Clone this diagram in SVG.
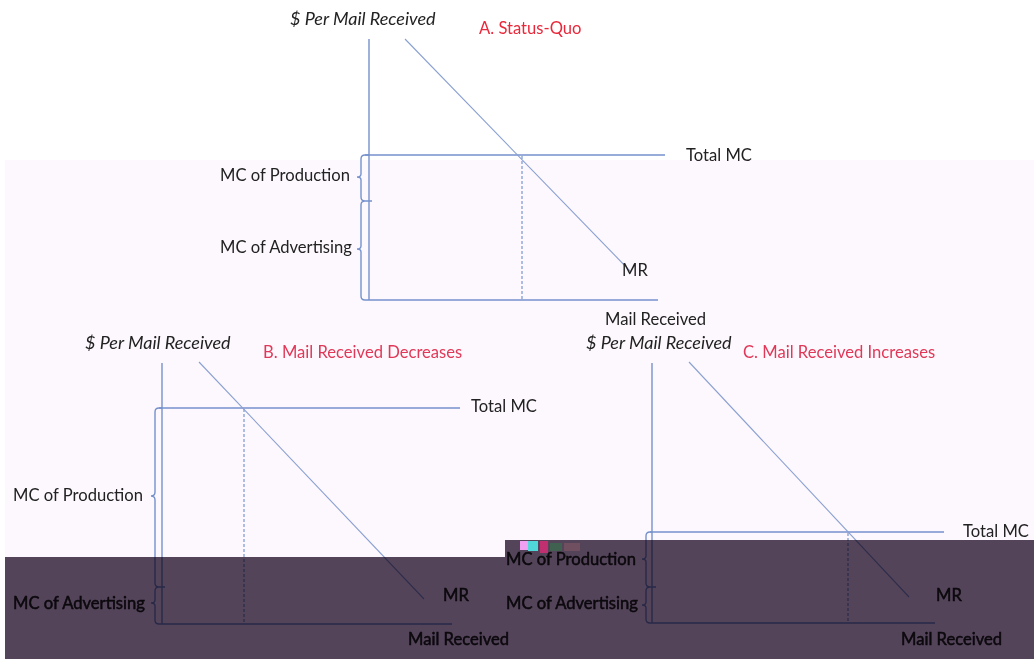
<svg xmlns="http://www.w3.org/2000/svg" width="1034" height="659" viewBox="0 0 1034 659">
<style>
.t{font-family:Lato,"Open Sans","Liberation Sans",sans-serif;font-size:16.6px;fill:#222}
.i{font-style:italic;font-size:18px}
.ra{fill:#e8283a}
.rb{fill:#e03858}
.bd{stroke:#1a1020;stroke-width:0.5}
.ax{fill:none;stroke:#7591cc;stroke-width:1.4}
.mr{fill:none;stroke:#8aa0d2;stroke-width:1.1}
.dt{fill:none;stroke:#5f80c8;stroke-width:1;stroke-dasharray:3 2}
.band{fill:#54465a;mix-blend-mode:multiply}
</style>
<rect width="1034" height="659" fill="#ffffff"/>
<rect x="5" y="160" width="1029" height="499" fill="#fdf8fd"/>

<g id="panel-a">
<g id="a-lines">
<line class="ax" x1="369" y1="39" x2="369" y2="300"/>
<line class="ax" x1="365" y1="155" x2="665" y2="155"/>
<line class="ax" x1="365" y1="300" x2="658" y2="300"/>
<line class="dt" x1="522" y1="156" x2="522" y2="299"/>
<line class="mr" x1="405" y1="39" x2="631" y2="272"/>
<path class="ax" d="M369,155 H365 Q361,155 361,159 V174 Q361,177 357,177 Q361,177 361,180 V197 Q361,201 365,201 H372 M365,201 Q361,201 361,205 V246 Q361,249 357,249 Q361,249 361,252 V296 Q361,300 365,300"/>
</g>
<text class="t i" x="290" y="25">$ Per Mail Received</text>
<text class="t ra" x="479" y="34">A. Status-Quo</text>
<text class="t" x="686" y="161">Total MC</text>
<text class="t" x="220" y="181">MC of Production</text>
<text class="t" x="220" y="253">MC of Advertising</text>
<text class="t" x="622" y="276">MR</text>
<text class="t" x="605" y="325">Mail Received</text>
</g>

<g id="panel-b">
<g id="b-lines">
<line class="ax" x1="162" y1="363" x2="162" y2="624"/>
<line class="ax" x1="159" y1="408" x2="460" y2="408"/>
<line class="ax" x1="159" y1="624" x2="452" y2="624"/>
<line class="dt" x1="244" y1="409" x2="244" y2="623"/>
<line class="mr" x1="199" y1="362" x2="424" y2="599"/>
<path class="ax" d="M162,408 H159 Q155,408 155,412 V492 Q155,496 151,496 Q155,496 155,500 V583 Q155,587 159,587 H165 M159,587 Q155,587 155,591 V600 Q155,603 151,603 Q155,603 155,606 V620 Q155,624 159,624"/>
</g>
<text class="t i" x="85" y="349">$ Per Mail Received</text>
<text class="t rb" x="263" y="358">B. Mail Received Decreases</text>
<text class="t" x="471" y="412">Total MC</text>
<text class="t" x="13" y="501">MC of Production</text>
<text class="t bd" x="13" y="609">MC of Advertising</text>
<text class="t bd" x="443" y="601">MR</text>
<text class="t bd" x="408" y="645">Mail Received</text>
</g>

<g id="panel-c">
<g id="c-lines">
<line class="ax" x1="652" y1="363" x2="652" y2="623"/>
<line class="ax" x1="650" y1="532" x2="944" y2="532"/>
<line class="ax" x1="650" y1="623" x2="935" y2="623"/>
<line class="dt" x1="848" y1="533" x2="848" y2="622"/>
<line class="mr" x1="689" y1="362" x2="909" y2="597"/>
<path class="ax" d="M652,532 H650 Q646,532 646,536 V556 Q646,559 642,559 Q646,559 646,562 V583 Q646,587 650,587 H656 M650,587 Q646,587 646,591 V602 Q646,605 642,605 Q646,605 646,608 V619 Q646,623 650,623"/>
</g>
<text class="t i" x="586" y="349">$ Per Mail Received</text>
<text class="t rb" x="743" y="358">C. Mail Received Increases</text>
<text class="t" x="963" y="537">Total MC</text>
<text class="t bd" x="506" y="565">MC of Production</text>
<text class="t bd" x="506" y="609">MC of Advertising</text>
<text class="t bd" x="936" y="601">MR</text>
<text class="t bd" x="901" y="645">Mail Received</text>
</g>

<polygon class="band" points="5,557 505,557 505,540 1034,540 1034,659 5,659"/>
<g id="glitch">
<rect x="520" y="541" width="8" height="9" fill="#f0a0f0"/>
<rect x="528" y="541" width="10" height="10" fill="#50d8d8"/>
<rect x="540" y="541" width="8" height="12" fill="#c03070"/>
<rect x="550" y="543" width="12" height="8" fill="#406050"/>
<rect x="564" y="543" width="16" height="8" fill="#705060"/>
</g>
</svg>
